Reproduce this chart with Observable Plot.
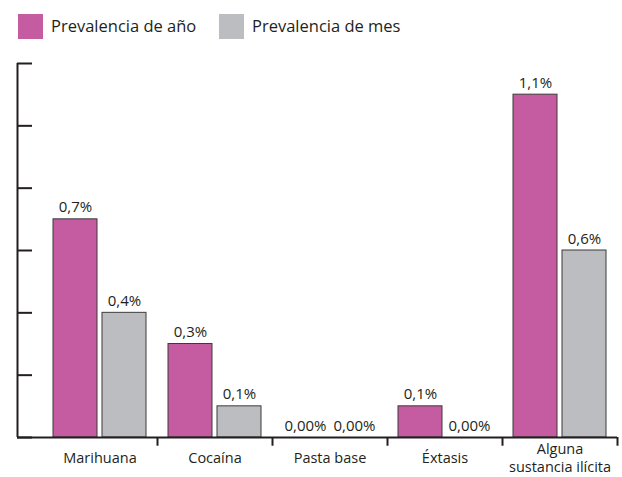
<!DOCTYPE html>
<html>
<head>
<meta charset="utf-8">
<script src="https://cdn.jsdelivr.net/npm/d3@7"></script>
<script src="https://cdn.jsdelivr.net/npm/@observablehq/plot@0.6"></script>
<style>
  body { margin: 0; background: #fff; font-family: "Open Sans", sans-serif; color: #231f20; }
  #wrap { position: relative; width: 622px; height: 477px; }
  #legend { position: absolute; left: 0; top: 0; width: 622px; height: 50px; }
  .sw { position: absolute; top: 14px; width: 25px; height: 25px; }
  .lt { position: absolute; top: 13px; font-size: 16.5px; line-height: 25px; white-space: nowrap; }
  #chart { position: absolute; left: 0; top: 50px; }
</style>
</head>
<body>
<div id="wrap">
  <div id="legend"></div>
  <div id="chart"></div>
</div>
<script>
const categories = ["Marihuana", "Cocaína", "Pasta base", "Éxtasis", "Alguna\nsustancia ilícita"];
const seriesNames = ["Prevalencia de año", "Prevalencia de mes"];
const anio = [0.7, 0.3, 0, 0.1, 1.1];
const mes = [0.4, 0.1, 0, 0, 0.6];
const anioLabels = ["0,7%", "0,3%", "0,00%", "0,1%", "1,1%"];
const mesLabels = ["0,4%", "0,1%", "0,00%", "0,00%", "0,6%"];
const yTicks = [0, 0.2, 0.4, 0.6, 0.8, 1.0, 1.2];
const colors = ["#c55ba0", "#bcbdc1"];

const rowsA = categories.map((c, i) => ({cat: c, v: anio[i], label: anioLabels[i]}));
const rowsM = categories.map((c, i) => ({cat: c, v: mes[i], label: mesLabels[i]}));

// legend
const legend = document.getElementById("legend");
const swX = [18, 219], txX = [51, 252];
seriesNames.forEach((n, i) => {
  const s = document.createElement("div");
  s.className = "sw"; s.style.left = swX[i] + "px"; s.style.background = colors[i];
  legend.appendChild(s);
  const t = document.createElement("div");
  t.className = "lt"; t.style.left = txX[i] + "px"; t.textContent = n;
  legend.appendChild(t);
});

const ink = "#231f20";
const font = "Open Sans";
const chart = Plot.plot({
  width: 622,
  height: 427,
  marginLeft: 17,
  marginRight: 5,
  marginTop: 13,
  marginBottom: 40,
  style: {fontFamily: font, color: ink, background: "white"},
  x: {domain: categories, range: [42, 617], padding: 0, axis: null},
  y: {domain: [0, 1.2], axis: null},
  marks: [
    Plot.barY(rowsA, {x: "cat", y: "v", fill: colors[0], stroke: "#3b3b3b", strokeWidth: 1, insetLeft: 11, insetRight: 60}),
    Plot.barY(rowsM, {x: "cat", y: "v", fill: colors[1], stroke: "#3b3b3b", strokeWidth: 1, insetLeft: 60, insetRight: 11}),
    Plot.text(rowsA, {x: "cat", y: "v", text: "label", dx: -24.5, dy: -7, lineAnchor: "bottom", fontSize: 15, fill: ink}),
    Plot.text(rowsM, {x: "cat", y: "v", text: "label", dx: 24.5, dy: -7, lineAnchor: "bottom", fontSize: 15, fill: ink}),
    Plot.axisY({ticks: yTicks, tickFormat: () => "", tickSize: 15, insetLeft: 15, strokeWidth: 2, stroke: ink, label: null}),
    // y axis line, placed at the left edge of the frame (left of the first band)
    Plot.ruleX([categories[0]], {x: d => d, dx: -82.5, y1: 0, y2: 1.2, stroke: ink, strokeWidth: 2}),
    Plot.ruleY([0], {stroke: ink, strokeWidth: 2}),
    Plot.ruleX(categories, {x: d => d, dx: 57.5, y1: 0, y2: -0.028, stroke: ink, strokeWidth: 2}),
    Plot.text(categories, {x: d => d, y: 0, dy: 19.5, lineAnchor: "middle", lineHeight: 1.3, fontSize: 14.5, fill: ink})
  ]
});
document.getElementById("chart").appendChild(chart);
</script>
</body>
</html>
